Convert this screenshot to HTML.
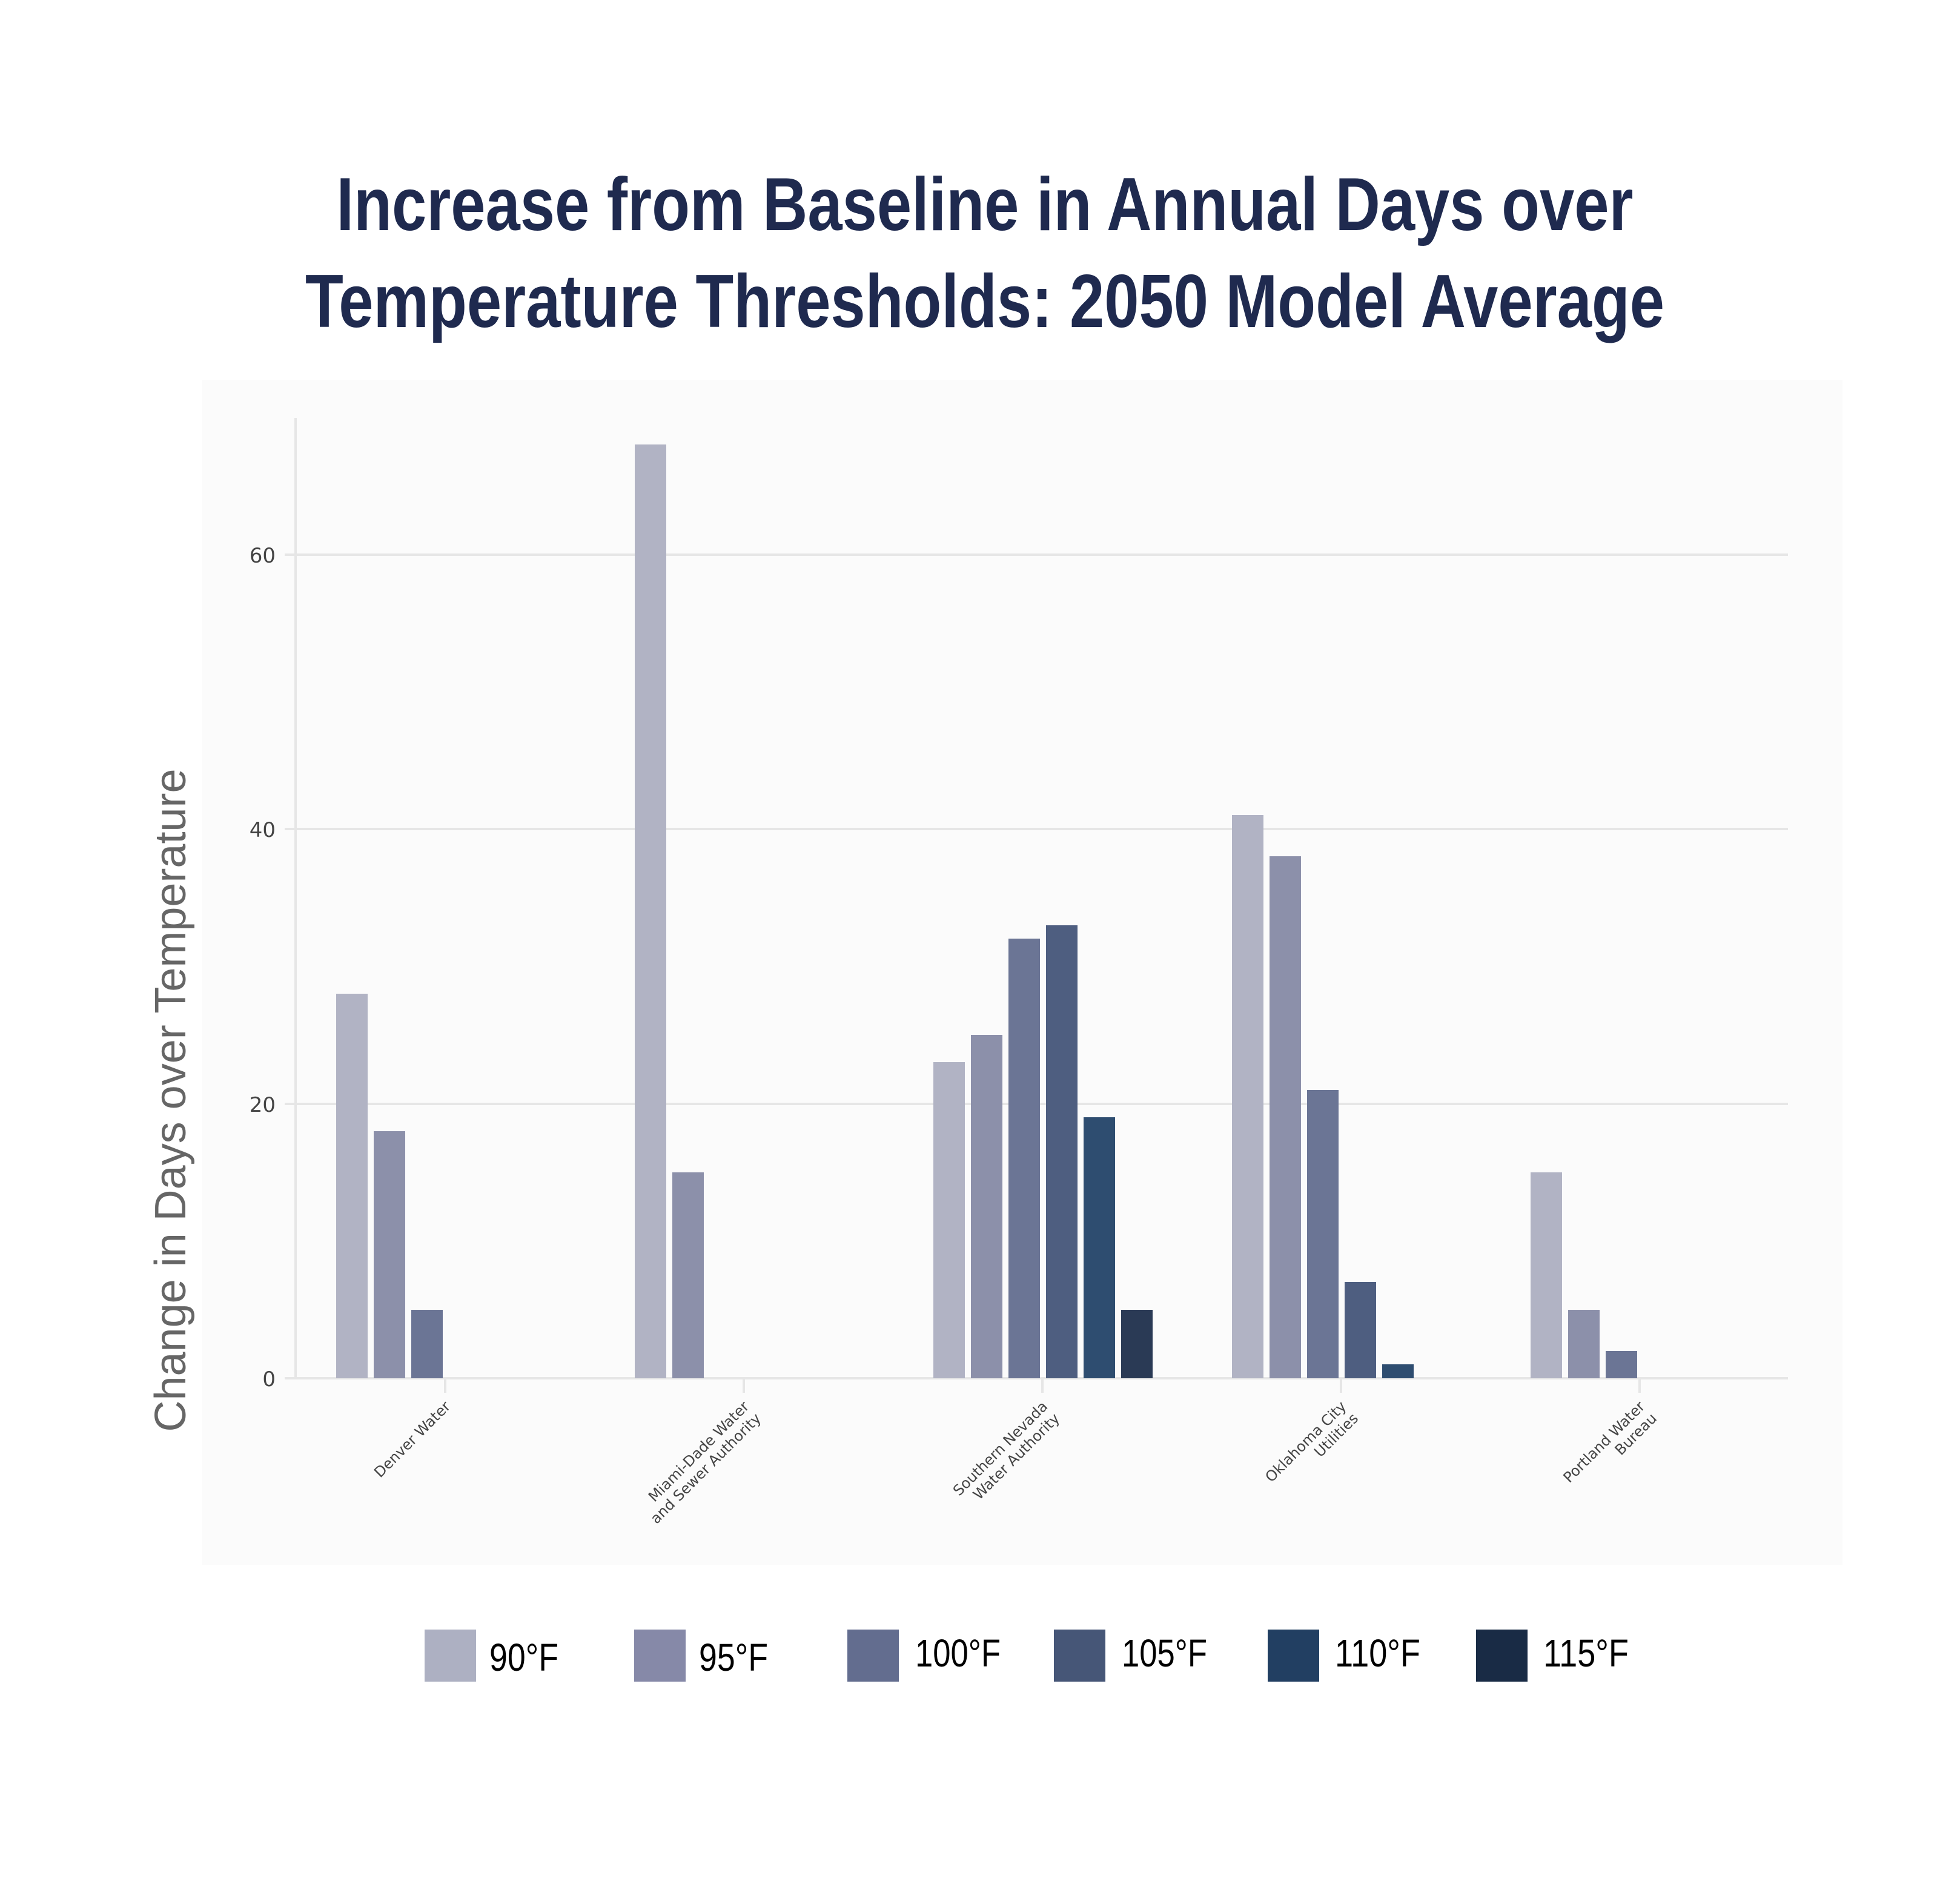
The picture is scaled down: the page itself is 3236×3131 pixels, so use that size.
<!DOCTYPE html>
<html><head><meta charset="utf-8"><style>html,body{margin:0;padding:0;background:#fff}</style></head>
<body>
<svg width="3236" height="3126" viewBox="0 0 3236 3126" xmlns="http://www.w3.org/2000/svg">
<rect width="3236" height="3126" fill="#fff"/>
<text x="1626" y="380" text-anchor="middle" textLength="2141" lengthAdjust="spacingAndGlyphs" font-family="'Liberation Sans',sans-serif" font-weight="bold" font-size="124" fill="#1f2a4f">Increase from Baseline in Annual Days over</text>
<text x="1626" y="540" text-anchor="middle" textLength="2244" lengthAdjust="spacingAndGlyphs" font-family="'Liberation Sans',sans-serif" font-weight="bold" font-size="124" fill="#1f2a4f">Temperature Thresholds: 2050 Model Average</text>
<rect x="334" y="628" width="2708" height="1956" fill="#fbfbfb"/>
<g stroke="#e6e6e6" stroke-width="4">
<line x1="470" y1="916" x2="2952" y2="916"/>
<line x1="470" y1="1369" x2="2952" y2="1369"/>
<line x1="470" y1="1823" x2="2952" y2="1823"/>
<line x1="470" y1="2276" x2="2952" y2="2276"/>
<line x1="488" y1="690" x2="488" y2="2276"/>
</g>
<g stroke="#e6e6e6" stroke-width="4">
<line x1="735" y1="2276" x2="735" y2="2300"/>
<line x1="1228" y1="2276" x2="1228" y2="2300"/>
<line x1="1721" y1="2276" x2="1721" y2="2300"/>
<line x1="2214" y1="2276" x2="2214" y2="2300"/>
<line x1="2707" y1="2276" x2="2707" y2="2300"/>
</g>
<g font-family="'DejaVu Sans',sans-serif" font-size="34" fill="#444" text-anchor="end">
<text x="455" y="929">60</text><text x="455" y="1382">40</text><text x="455" y="1836">20</text><text x="455" y="2289">0</text>
</g>
<text transform="translate(306,1817) rotate(-90)" text-anchor="middle" textLength="1095" lengthAdjust="spacingAndGlyphs" font-family="'Liberation Sans',sans-serif" font-size="72" fill="#666">Change in Days over Temperature</text>
<g>
<rect x="555" y="1641" width="52" height="635" fill="#b1b3c4"/>
<rect x="617" y="1868" width="52" height="408" fill="#8c90aa"/>
<rect x="679" y="2163" width="52" height="113" fill="#6b7595"/>
<rect x="1048" y="734" width="52" height="1542" fill="#b1b3c4"/>
<rect x="1110" y="1936" width="52" height="340" fill="#8c90aa"/>
<rect x="1541" y="1754" width="52" height="522" fill="#b1b3c4"/>
<rect x="1603" y="1709" width="52" height="567" fill="#8c90aa"/>
<rect x="1665" y="1550" width="52" height="726" fill="#6b7595"/>
<rect x="1727" y="1528" width="52" height="748" fill="#4e5e80"/>
<rect x="1789" y="1845" width="52" height="431" fill="#2e4d70"/>
<rect x="1851" y="2163" width="52" height="113" fill="#2a3a55"/>
<rect x="2034" y="1346" width="52" height="930" fill="#b1b3c4"/>
<rect x="2096" y="1414" width="52" height="862" fill="#8c90aa"/>
<rect x="2158" y="1800" width="52" height="476" fill="#6b7595"/>
<rect x="2220" y="2117" width="52" height="159" fill="#4e5e80"/>
<rect x="2282" y="2253" width="52" height="23" fill="#2e4d70"/>
<rect x="2527" y="1936" width="52" height="340" fill="#b1b3c4"/>
<rect x="2589" y="2163" width="52" height="113" fill="#8c90aa"/>
<rect x="2651" y="2231" width="52" height="45" fill="#6b7595"/>
</g>
<g font-family="'DejaVu Sans',sans-serif" font-size="24" fill="#444" text-anchor="end">
<text transform="translate(745,2324) rotate(-45)">Denver Water</text>
<text transform="translate(1238,2324) rotate(-45)"><tspan x="0" y="0">Miami-Dade Water</tspan><tspan x="0" y="28">and Sewer Authority</tspan></text>
<text transform="translate(1731,2324) rotate(-45)"><tspan x="0" y="0">Southern Nevada</tspan><tspan x="0" y="28">Water Authority</tspan></text>
<text transform="translate(2224,2324) rotate(-45)"><tspan x="0" y="0">Oklahoma City</tspan><tspan x="0" y="28">Utilities</tspan></text>
<text transform="translate(2717,2324) rotate(-45)"><tspan x="0" y="0">Portland Water</tspan><tspan x="0" y="28">Bureau</tspan></text>
</g>
<g>
<rect x="701" y="2691" width="85" height="86" fill="#adb0c2"/>
<rect x="1047" y="2691" width="85" height="86" fill="#8689a8"/>
<rect x="1399" y="2691" width="85" height="86" fill="#636d8f"/>
<rect x="1740" y="2691" width="85" height="86" fill="#465677"/>
<rect x="2093" y="2691" width="85" height="86" fill="#223f62"/>
<rect x="2437" y="2691" width="85" height="86" fill="#192b45"/>
</g>
<g font-family="'Liberation Sans',sans-serif" font-size="64" fill="#000">
<text x="808" y="2759" textLength="114" lengthAdjust="spacingAndGlyphs">90°F</text>
<text x="1154" y="2759" textLength="114" lengthAdjust="spacingAndGlyphs">95°F</text>
<text x="1511" y="2752" textLength="141" lengthAdjust="spacingAndGlyphs">100°F</text>
<text x="1852" y="2752" textLength="141" lengthAdjust="spacingAndGlyphs">105°F</text>
<text x="2204" y="2752" textLength="141" lengthAdjust="spacingAndGlyphs">110°F</text>
<text x="2548" y="2752" textLength="141" lengthAdjust="spacingAndGlyphs">115°F</text>
</g>
</svg>
</body></html>
